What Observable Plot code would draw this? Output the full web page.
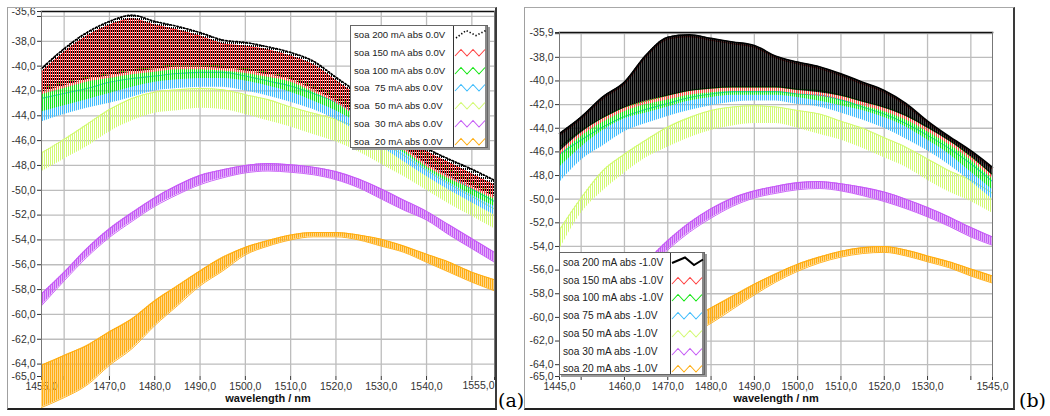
<!DOCTYPE html>
<html><head><meta charset="utf-8">
<script src="https://cdn.jsdelivr.net/npm/d3@7"></script>
<script src="https://cdn.jsdelivr.net/npm/@observablehq/plot@0.6"></script>
<style>
html,body{margin:0;padding:0;background:#fff;}
#root{position:relative;width:1050px;height:416px;overflow:hidden;background:#fff;}
.wrap{position:absolute;top:0;height:416px;overflow:hidden;}
.frame{position:absolute;box-sizing:border-box;border-top:1px solid #a8a8a8;border-left:1px solid #a0a0a0;border-right:2px solid #3a3a3a;border-bottom:2px solid #222;pointer-events:none;}
.tag{position:absolute;font-family:"DejaVu Serif","Liberation Serif",serif;font-size:19px;line-height:20px;color:#000;}
.legend{position:absolute;box-sizing:border-box;background:#fff;border:1px solid #666;box-shadow:2px 2px 0 #9a9a9a;font-family:"Liberation Sans",Arial,sans-serif;color:#222;}
.legend .txt{position:absolute;white-space:pre;}
.legend .sw{position:absolute;top:0;bottom:0;box-sizing:border-box;border-left:1px solid #333;border-right:2px solid #888;}
.legend svg{position:absolute;overflow:visible;}
</style></head><body><div id="root"></div>
<script>
// ---------- data : panel (a), 0.0 V ----------
const wavelengthsA = [1455,1460,1465,1470,1475,1480,1485,1490,1495,1500,1505,1510,1515,1520,1525,1530,1535,1540,1545,1550,1555];
const a200hi = [-40.2,-38.6,-37.3,-36.4,-35.9,-36.4,-36.8,-37.3,-37.9,-38.1,-38.45,-38.9,-39.6,-40.9,-42.2,-43.8,-45.3,-46.6,-47.5,-48.3,-49.2];
const a200lo = [-42.1,-41.6,-41.1,-40.8,-40.5,-40.3,-40.1,-40.1,-40.2,-40.4,-40.7,-41.1,-41.9,-42.8,-44.0,-45.3,-46.6,-47.9,-48.9,-49.7,-50.5];
const a150hi = [-40.5,-38.9,-37.6,-36.7,-36.2,-36.7,-37.1,-37.6,-38.2,-38.4,-38.7,-39.2,-39.9,-41.2,-42.5,-44.1,-45.6,-46.9,-47.8,-48.7,-49.6];
const a150lo = [-42.3,-41.8,-41.3,-41.0,-40.7,-40.5,-40.3,-40.3,-40.4,-40.6,-40.9,-41.3,-42.1,-43.0,-44.2,-45.5,-46.8,-48.1,-49.1,-49.9,-50.7];
const a100hi = [-41.8,-41.3,-40.9,-40.6,-40.3,-40.1,-39.9,-39.9,-40.0,-40.2,-40.5,-40.9,-41.6,-42.4,-43.5,-44.7,-45.9,-47.2,-48.3,-49.3,-50.3];
const a100lo = [-43.7,-43.2,-42.7,-42.2,-41.7,-41.3,-41.1,-41.0,-41.0,-41.2,-41.6,-42.1,-42.8,-43.6,-44.6,-45.8,-47.0,-48.3,-49.4,-50.4,-51.3];
const a75hi  = [-42.6,-42.2,-41.8,-41.3,-41.0,-40.8,-40.6,-40.5,-40.5,-40.8,-41.2,-41.6,-42.2,-42.9,-44.0,-45.3,-46.5,-47.7,-48.8,-49.9,-50.9];
const a75lo  = [-44.5,-43.9,-43.4,-43.0,-42.5,-42.0,-41.8,-41.7,-41.7,-42.0,-42.4,-42.9,-43.5,-44.3,-45.3,-46.5,-47.7,-48.9,-50.0,-51.0,-52.0];
const a50hi  = [-47.0,-45.9,-44.7,-43.5,-42.6,-42.1,-41.9,-41.8,-41.9,-42.3,-42.7,-43.3,-43.8,-44.3,-45.0,-46.1,-47.2,-48.4,-49.5,-50.5,-51.5];
const a50lo  = [-48.5,-47.5,-46.5,-45.3,-44.4,-43.8,-43.6,-43.4,-43.5,-43.9,-44.4,-44.9,-45.5,-46.1,-46.9,-47.9,-48.9,-50.0,-51.1,-52.1,-53.1];
const a30hi  = [-58.35,-56.6,-54.7,-53.1,-51.8,-50.6,-49.6,-48.8,-48.35,-48.0,-47.85,-47.95,-48.15,-48.5,-49.1,-49.9,-50.8,-51.7,-52.8,-53.9,-55.0];
const a30lo  = [-59.3,-57.3,-55.4,-53.8,-52.5,-51.3,-50.35,-49.55,-49.0,-48.6,-48.45,-48.55,-48.75,-49.15,-49.8,-50.7,-51.6,-52.4,-53.6,-54.7,-55.8];
const a20hi  = [-64.1,-63.3,-62.5,-61.4,-60.35,-58.9,-57.7,-56.5,-55.4,-54.6,-54.05,-53.6,-53.4,-53.4,-53.6,-53.95,-54.5,-55.15,-55.8,-56.6,-57.2];
const a20lo  = [-67.5,-66.7,-65.7,-64.1,-62.75,-60.9,-59.3,-57.7,-56.5,-55.2,-54.5,-54.0,-53.75,-53.75,-54.0,-54.5,-55.0,-55.8,-56.6,-57.4,-58.1];

// ---------- data : panel (b), -1.0 V ----------
const wavelengthsB = [1445,1450,1455,1460,1465,1470,1475,1480,1485,1490,1495,1500,1505,1510,1515,1520,1525,1530,1535,1540,1545];
const b200hi = [-44.45,-43.05,-41.35,-40.1,-37.8,-36.3,-36.1,-36.4,-36.7,-37.0,-37.9,-38.4,-38.8,-39.4,-40.1,-40.8,-41.9,-43.4,-44.7,-45.9,-47.3];
const b200lo = [-46.0,-44.4,-43.2,-42.3,-41.7,-41.3,-40.9,-40.7,-40.6,-40.6,-40.6,-40.8,-41.0,-41.3,-41.8,-42.3,-43.0,-44.0,-45.1,-46.4,-48.0];
const b150hi = [-44.6,-43.2,-41.5,-40.25,-37.95,-36.45,-36.25,-36.55,-36.85,-37.15,-38.05,-38.55,-38.95,-39.55,-40.25,-40.95,-42.05,-43.55,-44.85,-46.05,-47.45];
const b150lo = [-46.3,-44.7,-43.5,-42.6,-42.0,-41.6,-41.2,-41.0,-40.9,-40.9,-40.9,-41.1,-41.3,-41.6,-42.1,-42.6,-43.3,-44.3,-45.4,-46.7,-48.3];
const b100hi = [-45.6,-44.2,-43.1,-42.2,-41.7,-41.2,-40.8,-40.6,-40.5,-40.5,-40.5,-40.7,-40.8,-41.2,-41.7,-42.2,-42.9,-43.9,-45.0,-46.4,-47.9];
const b100lo = [-47.3,-45.6,-44.2,-43.2,-42.7,-42.2,-41.7,-41.4,-41.2,-41.2,-41.2,-41.4,-41.7,-42.1,-42.5,-43.1,-43.9,-45.0,-46.2,-47.7,-49.2];
const b75hi  = [-46.2,-45.0,-43.9,-43.0,-42.4,-41.9,-41.4,-41.1,-40.9,-40.9,-40.9,-41.1,-41.2,-41.6,-42.2,-42.8,-43.6,-44.6,-45.7,-47.0,-48.5];
const b75lo  = [-48.6,-46.7,-45.5,-44.3,-43.6,-43.0,-42.5,-42.1,-41.8,-41.7,-41.7,-42.0,-42.2,-42.7,-43.3,-44.0,-44.9,-45.9,-47.1,-48.5,-50.0];
const b50hi  = [-52.6,-49.9,-47.6,-46.2,-45.0,-43.9,-43.1,-42.5,-42.2,-42.1,-42.2,-42.5,-42.8,-43.4,-44.0,-44.8,-45.6,-46.6,-47.6,-48.4,-49.5];
const b50lo  = [-54.3,-51.2,-49.3,-47.8,-46.5,-45.6,-44.8,-44.2,-43.8,-43.6,-43.6,-44.0,-44.5,-45.0,-45.7,-46.5,-47.3,-48.4,-49.4,-50.2,-51.2];
const b30hi  = [-63.0,-60.6,-58.6,-56.9,-55.3,-53.5,-52.0,-50.8,-49.9,-49.3,-48.9,-48.6,-48.5,-48.7,-49.0,-49.4,-50.0,-50.7,-51.5,-52.4,-53.2];
const b30lo  = [-64.8,-61.8,-59.6,-57.8,-56.1,-54.3,-52.8,-51.6,-50.6,-49.9,-49.5,-49.2,-49.1,-49.3,-49.7,-50.2,-50.8,-51.5,-52.3,-53.2,-53.9];
const b20hi  = [null,null,null,-63.4,-62.3,-61.2,-60.2,-59.2,-58.2,-57.2,-56.3,-55.5,-54.9,-54.4,-54.1,-54.0,-54.3,-54.8,-55.3,-55.9,-56.5];
const b20lo  = [null,null,null,-64.8,-63.7,-62.6,-61.5,-60.5,-59.3,-58.1,-57.0,-56.1,-55.4,-54.9,-54.6,-54.5,-54.8,-55.3,-55.8,-56.5,-57.1];

// ---------- labels & ticks ----------
const legendA = ["soa 200 mA abs 0.0V","soa 150 mA abs 0.0V","soa 100 mA abs 0.0V","soa  75 mA abs 0.0V","soa  50 mA abs 0.0V","soa  30 mA abs 0.0V","soa  20 mA abs 0.0V"];
const legendB = ["soa 200 mA abs -1.0V","soa 150 mA abs -1.0V","soa 100 mA abs -1.0V","soa 75 mA abs -1.0V","soa 50 mA abs -1.0V","soa 30 mA abs -1.0V","soa 20 mA abs -1.0V"];
const xTitle = "wavelength / nm";
const xTicksA  = [1455,1460,1470,1480,1490,1500,1510,1520,1530,1540,1550,1555];
const xLabelsA = [1455,1470,1480,1490,1500,1510,1520,1530,1540];
const xEndA    = [1555];
const xGridA   = [1460,1470,1480,1490,1500,1510,1520,1530,1540,1550];
const yTicksA  = [-35.6,-36,-38,-40,-42,-44,-46,-48,-50,-52,-54,-56,-58,-60,-62,-64,-65];
const yLabelsA = [-35.6,-38,-40,-42,-44,-46,-48,-50,-52,-54,-56,-58,-60,-62,-64,-65];
const xTicksB  = [1445,1450,1460,1470,1480,1490,1500,1510,1520,1530,1540,1545];
const xLabelsB = [1445,1460,1470,1480,1490,1500,1510,1520,1530,1545];
const xEndB    = [];
const xGridB   = [1450,1460,1470,1480,1490,1500,1510,1520,1530,1540];
const yTicksB  = [-35.9,-36,-38,-40,-42,-44,-46,-48,-50,-52,-54,-56,-58,-60,-62,-64,-65];
const yLabelsB = [-35.9,-38,-40,-42,-44,-46,-48,-50,-52,-54,-56,-58,-60,-62,-64,-65];
const yGrid    = [-36,-38,-40,-42,-44,-46,-48,-50,-52,-54,-56,-58,-60,-62,-64];

// ---------- styles ----------
const colors = ["#000000","#ff4444","#16e616","#41bdfc","#d3fa74","#c65cf6","#ffae14"];
const stripeW = [1.7, 1, 1.1, 1.1, 1, 1.5, 1.5];
const fmt = d => d.toFixed(1).replace(".", ",");
const font = "'Liberation Sans', Arial, sans-serif";

const root = document.getElementById("root");

function makePanel(p) {
  const series = p.hi.map((hi, k) => p.wl.map((w, i) => ({wl: w, hi: hi[i], lo: p.lo[k][i]})));
  const gridStyle = {stroke: "#bdbdbd", strokeOpacity: 1, strokeWidth: 1.3};
  const marks = [
    Plot.gridX(p.xGrid, gridStyle),
    Plot.gridY(yGrid, gridStyle),
    Plot.axisY(p.yTicks, {tickFormat: d => p.yLabels.includes(d) ? fmt(d) : "", tickSize: 4, tickPadding: 2, label: null}),
    Plot.axisX(p.xTicks, {tickFormat: d => p.xLabels.includes(d) ? fmt(d) : "", tickSize: 4, tickPadding: 2, label: null}),
    Plot.text(p.xEnd, {x: d => d, text: d => fmt(d), frameAnchor: "bottom", textAnchor: "end", dy: 12, fill: "#333"})
  ];
  for (let k = series.length - 1; k >= 0; k--) {
    const rows = series[k];
    marks.push(Plot.areaY(rows, {x: "wl", y1: "lo", y2: "hi", fill: `url(#${p.id}-pat${k})`, curve: "monotone-x"}));
    const dotted = p.dotted && k === 0;
    marks.push(Plot.lineY(rows, {x: "wl", y: "hi", stroke: colors[k], curve: "monotone-x",
      strokeWidth: dotted ? 1.7 : (k === 0 ? 1.6 : 1.1),
      strokeDasharray: dotted ? "1.4,2" : null}));
    if (k >= 5) marks.push(Plot.lineY(rows, {x: "wl", y: "lo", stroke: colors[k], strokeWidth: 0.9, curve: "monotone-x"}));
  }
  marks.push(
    Plot.frame({anchor: "top", stroke: "#111", strokeWidth: 1.6}),
    Plot.frame({anchor: "left", stroke: "#777"}),
    Plot.frame({anchor: "right", stroke: "#777"}),
    Plot.text([xTitle], {text: d => d, frameAnchor: "bottom", dy: 25, fontWeight: "bold", fontSize: 11, fill: "#111"})
  );
  const svg = Plot.plot({
    width: p.width, height: 416,
    marginLeft: p.ml, marginRight: p.mr, marginTop: p.mt, marginBottom: 40,
    x: {domain: p.xDomain},
    y: {domain: p.yDomain},
    style: {fontFamily: font, fontSize: "10.5px", color: "#333", background: "transparent"},
    marks
  });
  const defs = d3.select(svg).insert("defs", ":first-child");
  colors.forEach((c, k) => {
    const pat = defs.append("pattern").attr("id", `${p.id}-pat${k}`).attr("patternUnits", "userSpaceOnUse");
    if (k === 0 && p.dotted) {
      pat.attr("width", 2).attr("height", 3);
      pat.append("rect").attr("x", 1).attr("y", 0).attr("width", 1).attr("height", 2).attr("fill", c);
    } else {
      pat.attr("width", 2).attr("height", 4);
      pat.append("rect").attr("width", stripeW[k]).attr("height", 4).attr("fill", c);
    }
  });
  const wrap = document.createElement("div");
  wrap.className = "wrap";
  wrap.style.left = p.left + "px";
  wrap.style.width = p.width + "px";
  wrap.appendChild(svg);
  root.appendChild(wrap);
}

function makeLegend(L) {
  const box = document.createElement("div");
  box.className = "legend";
  Object.assign(box.style, {left: L.left + "px", top: L.top + "px", width: L.w + "px", height: L.h + "px", fontSize: L.fs + "px"});
  const sw = document.createElement("div");
  sw.className = "sw";
  Object.assign(sw.style, {left: L.swLeft + "px", width: L.swW + "px"});
  box.appendChild(sw);
  L.labels.forEach((t, i) => {
    const cy = L.y0 + i * 17.7;
    const tx = document.createElement("div");
    tx.className = "txt";
    tx.textContent = t;
    Object.assign(tx.style, {left: "3px", top: (cy - 7) + "px", lineHeight: "14px"});
    box.appendChild(tx);
    const s = d3.create("svg").attr("width", 31).attr("height", 12)
      .style("left", (L.swLeft + 2) + "px").style("top", (cy - 6) + "px");
    const big = i === 0;
    const pts = big ? L.bigPts : "0,9 6,2.5 12,9 18,2.5 24,9 30,2.5";
    s.append("polyline").attr("points", pts).attr("fill", "none").attr("stroke", colors[i])
      .attr("stroke-width", big ? (L.dotted ? 1.6 : 2) : 1.1)
      .attr("stroke-dasharray", big && L.dotted ? "1.3,2" : null);
    box.appendChild(s.node());
  });
  root.appendChild(box);
}

makePanel({id: "pa", left: 0, width: 496, ml: 41, mr: 2, mt: 11, dotted: true,
  wl: wavelengthsA, xDomain: [1455, 1555], yDomain: [-65, -35.6],
  xTicks: xTicksA, xLabels: xLabelsA, xEnd: xEndA, xGrid: xGridA, yTicks: yTicksA, yLabels: yLabelsA,
  hi: [a200hi, a150hi, a100hi, a75hi, a50hi, a30hi, a20hi],
  lo: [a200lo, a150lo, a100lo, a75lo, a50lo, a30lo, a20lo]});

makePanel({id: "pb", left: 520, width: 494, ml: 39, mr: 22, mt: 32, dotted: false,
  wl: wavelengthsB, xDomain: [1445, 1545], yDomain: [-65, -35.9],
  xTicks: xTicksB, xLabels: xLabelsB, xEnd: xEndB, xGrid: xGridB, yTicks: yTicksB, yLabels: yLabelsB,
  hi: [b200hi, b150hi, b100hi, b75hi, b50hi, b30hi, b20hi],
  lo: [b200lo, b150lo, b100lo, b75lo, b50lo, b30lo, b20lo]});

makeLegend({left: 350, top: 25, w: 138, h: 123, fs: 9.6, swLeft: 102, swW: 34, y0: 9.3,
  labels: legendA, dotted: true, bigPts: "1,9 11,1.5 21,6.5 31,1.5"});
makeLegend({left: 559, top: 252, w: 146, h: 123, fs: 10.2, swLeft: 110, swW: 34, y0: 10,
  labels: legendB, dotted: false, bigPts: "0,6 13,0.5 22,8 31,2.5"});

// frames and panel tags
[[7, 7, 490, 403], [524, 7, 491, 403]].forEach(([l, t, w, h]) => {
  const f = document.createElement("div");
  f.className = "frame";
  Object.assign(f.style, {left: l + "px", top: t + "px", width: w + "px", height: h + "px"});
  root.appendChild(f);
});
[["(a)", 498, 390], ["(b)", 1019, 390]].forEach(([s, l, t]) => {
  const d = document.createElement("div");
  d.className = "tag";
  d.textContent = s;
  Object.assign(d.style, {left: l + "px", top: t + "px"});
  root.appendChild(d);
});
</script></body></html>
